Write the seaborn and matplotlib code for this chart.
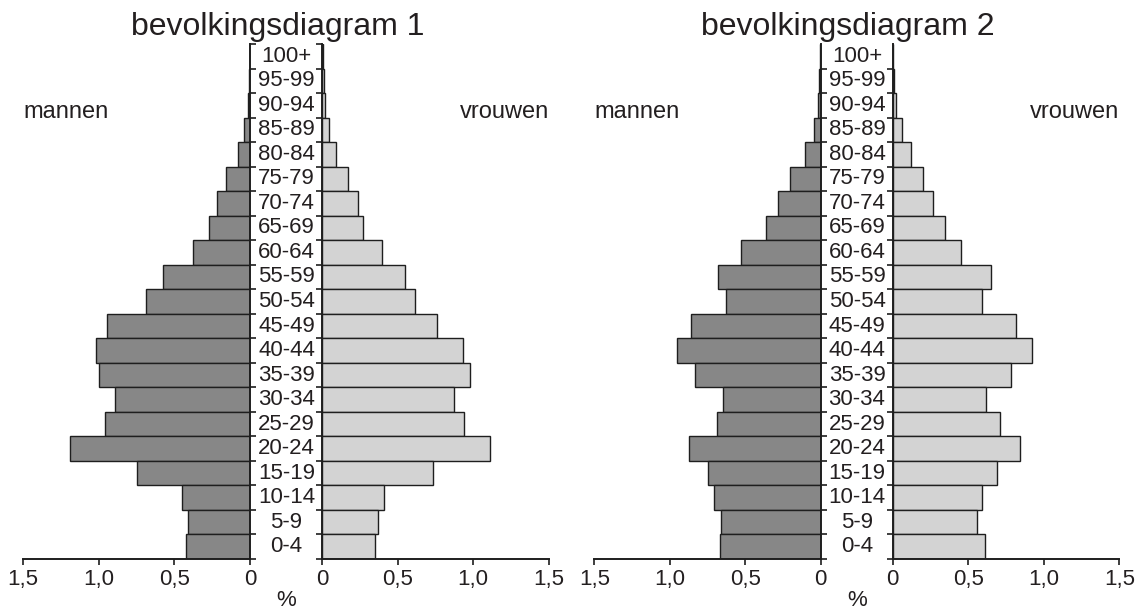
import matplotlib
matplotlib.use("Agg")
import matplotlib.pyplot as plt
import matplotlib.transforms as mtransforms
import numpy as np
import pandas as pd
import seaborn as sns

# ---- data (bottom to top) ----
ages = ["0-4", "5-9", "10-14", "15-19", "20-24", "25-29", "30-34", "35-39",
        "40-44", "45-49", "50-54", "55-59", "60-64", "65-69", "70-74",
        "75-79", "80-84", "85-89", "90-94", "95-99", "100+"]

men1 = [0.42, 0.41, 0.45, 0.75, 1.19, 0.955, 0.895, 1.00, 1.015, 0.945,
        0.69, 0.575, 0.375, 0.27, 0.22, 0.16, 0.08, 0.04, 0.015, 0.008, 0.001]
women1 = [0.35, 0.37, 0.41, 0.735, 1.11, 0.94, 0.875, 0.98, 0.935, 0.76,
          0.615, 0.55, 0.395, 0.27, 0.235, 0.17, 0.09, 0.045, 0.02, 0.01, 0.002]

men2 = [0.67, 0.66, 0.705, 0.745, 0.875, 0.69, 0.65, 0.83, 0.95, 0.86,
        0.625, 0.68, 0.525, 0.36, 0.28, 0.205, 0.105, 0.045, 0.02, 0.01, 0.002]
women2 = [0.61, 0.56, 0.59, 0.69, 0.84, 0.71, 0.62, 0.785, 0.925, 0.815,
          0.59, 0.65, 0.45, 0.345, 0.27, 0.20, 0.12, 0.06, 0.02, 0.006, 0.001]

titles = ["bevolkingsdiagram 1", "bevolkingsdiagram 2"]
xticks = [0, 0.5, 1.0, 1.5]
xticklabels = ["0", "0,5", "1,0", "1,5"]

MEN_COLOR = "#878787"
WOMEN_COLOR = "#d3d3d3"
EDGE = "#1e1e1e"
TEXT = "#231f20"
NARROW = ["Liberation Sans Narrow", "Liberation Sans", "DejaVu Sans"]
REG = ["Liberation Sans", "DejaVu Sans"]

sns.set_theme(style="white")
plt.rcParams["font.family"] = REG

W, H = 1145, 612
fig = plt.figure(figsize=(W / 100, H / 100), dpi=100)
fig.patch.set_facecolor("white")

order = ages[::-1]  # top to bottom for seaborn horizontal bars
y_bot, y_top = 559, 44


def fx(px):
    return px / W


def fy(py):
    return 1 - py / H


def make_axes(x0, x1):
    return fig.add_axes([fx(x0), fy(y_bot), fx(x1 - x0), (y_bot - y_top) / H])


def draw_side(ax, values, color, side, top_tick):
    df = pd.DataFrame({"age": ages, "pct": values})
    sns.barplot(data=df, x="pct", y="age", order=order, orient="h", ax=ax,
                color=color, saturation=1, edgecolor=EDGE, linewidth=1.0,
                width=1.0, errorbar=None)
    ax.set_ylim(len(ages) - 0.5, -0.5)
    bounds = np.arange(len(ages) + 1) - 0.5
    if not top_tick:
        bounds = bounds[1:]
    ax.set_yticks(bounds)
    ax.set_yticklabels([])
    ax.set_xlabel("")
    ax.set_ylabel("")
    ax.set_facecolor("none")
    for s in ax.spines.values():
        s.set_visible(False)
        s.set_color(EDGE)
        s.set_linewidth(1.4)
    ax.spines["bottom"].set_visible(True)
    if side == "men":
        ax.set_xlim(1.5, 0)
        ax.spines["right"].set_visible(True)
        ax.yaxis.tick_right()
        ax.tick_params(axis="y", which="both", right=True, left=False,
                       direction="out", length=4.5, width=1.2, color=EDGE,
                       labelright=False, labelleft=False)
    else:
        ax.set_xlim(0, 1.5)
        ax.spines["left"].set_visible(True)
        ax.yaxis.tick_left()
        ax.tick_params(axis="y", which="both", left=True, right=False,
                       direction="out", length=4.5, width=1.2, color=EDGE,
                       labelright=False, labelleft=False)
    ax.set_xticks(xticks)
    ax.set_xticklabels(xticklabels)
    ax.tick_params(axis="x", bottom=True, direction="out", length=4.5,
                   width=1.2, color=EDGE, pad=3, labelsize=16,
                   labelcolor=TEXT)
    for lab in ax.get_xticklabels():
        lab.set_family(NARROW)


panels = [
    dict(men=men1, women=women1, mx=(23, 250), wx=(322.3, 548.7),
         label_x=286.5, title_x=278, top_tick=True, title=titles[0]),
    dict(men=men2, women=women2, mx=(594.3, 820.7), wx=(892.7, 1119.3),
         label_x=857, title_x=848, top_tick=False, title=titles[1]),
]

for p in panels:
    axm = make_axes(*p["mx"])
    draw_side(axm, p["men"], MEN_COLOR, "men", p["top_tick"])
    axw = make_axes(*p["wx"])
    draw_side(axw, p["women"], WOMEN_COLOR, "women", p["top_tick"])

    trans = mtransforms.blended_transform_factory(fig.transFigure, axm.transData)
    for i, a in enumerate(order):
        fig.text(fx(p["label_x"]), i, a, transform=trans, ha="center",
                 va="center", fontsize=16, color=TEXT, family=NARROW)

    fig.text(fx(p["title_x"]), fy(35), p["title"], ha="center", va="baseline",
             fontsize=23, color=TEXT, family=REG)
    fig.text(fx(p["mx"][0]), fy(112), "mannen", ha="left", va="center",
             fontsize=17, color=TEXT, family=REG)
    fig.text(fx(p["wx"][1]), fy(112), "vrouwen", ha="right", va="center",
             fontsize=17, color=TEXT, family=REG)
    fig.text(fx(p["label_x"]), fy(600), "%", ha="center", va="center",
             fontsize=16, color=TEXT, family=NARROW)

fig.savefig("out.png", dpi=100, facecolor="white")
